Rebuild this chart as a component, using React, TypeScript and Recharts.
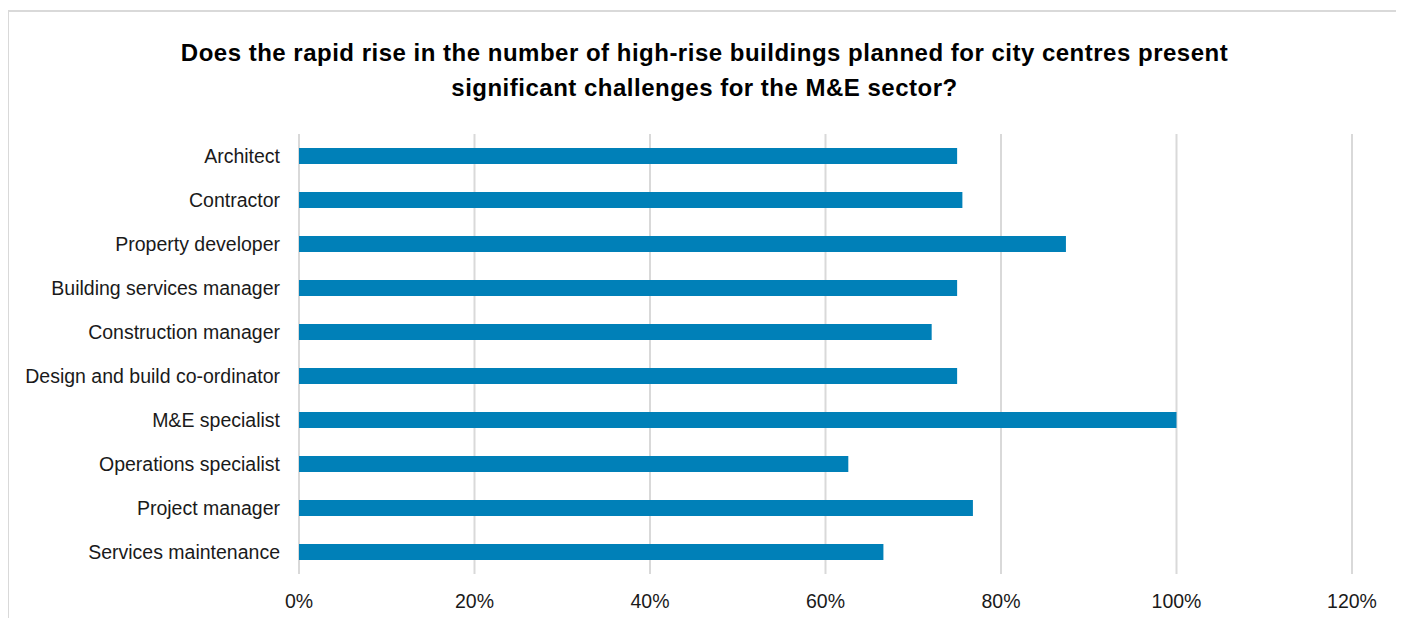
import { Bar, BarChart, CartesianGrid, XAxis, YAxis } from "recharts";

const roles = [
  "Architect",
  "Contractor",
  "Property developer",
  "Building services manager",
  "Construction manager",
  "Design and build co-ordinator",
  "M&E specialist",
  "Operations specialist",
  "Project manager",
  "Services maintenance",
];
const yesShare = [75, 75.6, 87.4, 75, 72.1, 75, 100, 62.6, 76.8, 66.6];
const xTicks = [0, 20, 40, 60, 80, 100, 120];

const titleLines = [
  "Does the rapid rise in the number of high-rise buildings planned for city centres present",
  "significant challenges for the M&E sector?",
];

const data = roles.map((name, i) => ({ name, value: yesShare[i] }));
const font = "'Liberation Sans', Arial, sans-serif";

export default function App() {
  return (
    <div
      style={{
        position: "relative",
        width: 1395,
        height: 620,
        marginLeft: -1,
        marginTop: 2,
        boxSizing: "border-box",
        border: "2px solid #d9d9d9",
        background: "#fff",
        fontFamily: font,
      }}
    >
      <div
        style={{
          position: "absolute",
          top: 23,
          left: 0,
          width: "100%",
          textAlign: "center",
          fontSize: 24,
          letterSpacing: 0.5,
          fontWeight: "bold",
          lineHeight: "35px",
          color: "#000",
        }}
      >
        {titleLines.map((l) => (
          <div key={l}>{l}</div>
        ))}
      </div>
      <div style={{ position: "absolute", left: 0, top: 0 }}>
        <BarChart
          width={1391}
          height={608}
          data={data}
          layout="vertical"
          margin={{ top: 122, right: 48, left: 0, bottom: 16 }}
          barCategoryGap={0}
        >
          <CartesianGrid horizontal={false} stroke="#d9d9d9" strokeWidth={2} />
          <XAxis
            type="number"
            domain={[0, 120]}
            ticks={xTicks}
            tickFormatter={(v: number) => `${v}%`}
            axisLine={false}
            tickLine={false}
            tickSize={0}
            tickMargin={20}
            height={30}
            interval={0}
            tick={{ fontSize: 19.5, fill: "#1a1a1a", fontFamily: font }}
          />
          <YAxis
            type="category"
            dataKey="name"
            width={290}
            axisLine={false}
            tickLine={false}
            tickSize={0}
            tickMargin={19}
            interval={0}
            tick={{ fontSize: 19.5, fill: "#1a1a1a", fontFamily: font }}
          />
          <Bar dataKey="value" fill="#0080b8" barSize={16} isAnimationActive={false} />
        </BarChart>
      </div>
    </div>
  );
}
